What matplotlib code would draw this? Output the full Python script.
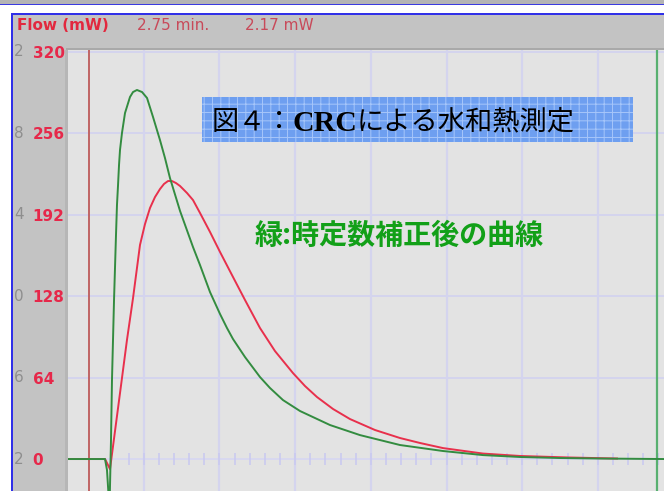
import matplotlib
matplotlib.use("Agg")
import matplotlib.pyplot as plt
import numpy as np
from matplotlib.patches import Rectangle

# ---- data: time (min) and heat flow (mW) ----
green_time = [0.0, 0.489, 0.515, 0.548, 0.568, 0.581, 0.608, 0.634, 0.647, 0.661,
              0.674, 0.687, 0.713, 0.753, 0.819, 0.859, 0.911, 0.978, 1.044, 1.123,
              1.215, 1.281, 1.347, 1.480, 1.651, 1.744, 1.876, 2.008, 2.100, 2.180,
              2.338, 2.536, 2.668, 2.840, 3.065, 3.461, 3.857, 4.386, 4.954, 5.482,
              5.971, 6.499, 7.028, 7.873]
green_flow = [0.0, 0.0, -8.6, -40.0, 14.9, 62.0, 124.9, 175.9, 199.5, 215.2,
              230.9, 242.7, 256.0, 271.7, 284.3, 288.2, 289.8, 288.2, 283.5, 268.6,
              250.5, 236.4, 220.7, 194.8, 166.5, 152.3, 131.1, 113.9, 102.9, 94.2,
              80.1, 64.4, 55.8, 46.3, 37.7, 26.7, 18.8, 11.0, 6.3, 3.1,
              1.6, 0.8, 0.4, 0.0]

red_time = [0.0, 0.489, 0.555, 0.621, 0.687, 0.779, 0.859, 0.951, 1.017, 1.083,
            1.149, 1.215, 1.268, 1.321, 1.374, 1.427, 1.480, 1.572, 1.651, 1.744,
            1.876, 2.008, 2.180, 2.338, 2.536, 2.734, 2.972, 3.131, 3.289, 3.501,
            3.725, 4.055, 4.386, 4.650, 4.954, 5.482, 5.971, 6.631, 7.252]
red_flow = [0.0, 0.0, -7.9, 22.0, 51.8, 93.5, 126.4, 168.1, 184.5, 197.1,
            205.7, 212.0, 216.0, 218.3, 218.3, 216.7, 214.4, 208.9, 203.4, 193.2,
            178.3, 162.6, 142.9, 124.9, 102.9, 84.8, 67.5, 57.3, 48.7, 39.3,
            31.4, 22.8, 16.5, 12.6, 8.6, 4.3, 2.4, 1.2, 0.4]

y_ticks = [0, 64, 128, 192, 256, 320]
y_ticks_hidden = ["2", "6", "0", "4", "8", "2"]
x_grid = [1, 2, 3, 4, 5, 6, 7]
marker_start = 0.277
marker_end = 7.78

title_parts = [("図４：", 212, 19.6, "normal"),
               ("CRC", 293, 21.5, "bold"),
               ("による水和熱測定", 357, 19.6, "normal")]
note_text = "緑:時定数補正後の曲線"
header_items = [("Flow (mW)", 17, "bold", "#e2283e"),
                ("2.75 min.", 137, "normal", "#c84a5a"),
                ("2.17 mW", 245, "normal", "#c84a5a")]

W, H = 664, 491
fig = plt.figure(figsize=(W / 100, H / 100), dpi=100)
fig.patch.set_facecolor("white")

# ---- window chrome in pixel coordinates ----
bg = fig.add_axes([0, 0, 1, 1], zorder=0)
bg.set_xlim(0, W)
bg.set_ylim(H, 0)
bg.axis("off")
bg.add_patch(Rectangle((0, 0), W, 4, color="#b4b4b4", lw=0))
bg.add_patch(Rectangle((0, 4), W, 1.2, color="#3a3ae0", lw=0))
bg.add_patch(Rectangle((12, 13), W, 2, color="#3030e8", lw=0))
bg.add_patch(Rectangle((11, 13), 2, H, color="#3030e8", lw=0))
bg.add_patch(Rectangle((13, 15), W, H, color="#c3c3c3", lw=0))
bg.add_patch(Rectangle((66, 48), W, 2.5, color="#a9a9a9", lw=0))
bg.add_patch(Rectangle((65, 50), 3, H, color="#b6b6b6", lw=0))

for label, x0, weight, col in header_items:
    bg.text(x0, 25, label, fontsize=11, fontweight=weight, color=col,
            ha="left", va="center", family="DejaVu Sans")

# ---- plot area ----
ax_left = 68 / W
ax_top = 50 / H
ax = fig.add_axes([ax_left, 0, 1 - ax_left, 1 - ax_top], zorder=1)
ax.set_facecolor("#e3e3e3")
ax.set_xlim(0, 7.873)
ax.set_ylim(-25.1, 321.2)
for s in ax.spines.values():
    s.set_visible(False)

ax.set_xticks([])
ax.set_yticks(y_ticks)
ax.set_yticklabels([str(v) for v in y_ticks])
ax.tick_params(axis="y", length=0, pad=25.5, labelsize=11,
               labelcolor="#e6284a")
for lab in ax.get_yticklabels():
    lab.set_ha("left")
    lab.set_fontweight("bold")

grid_col = "#d4d4ee"
for v in y_ticks[1:]:
    ax.axhline(v, color=grid_col, lw=1.4, zorder=1)
ax.axhline(0, color="#d6d6f2", lw=1.2, zorder=1)
for v in x_grid:
    ax.axvline(v, color=grid_col, lw=1.6, zorder=1)

# minor ticks along the zero line
minor = np.arange(0.8, 7.85, 0.2)
ax.vlines(minor, -5, 5, color="#cacaf0", lw=1.2, zorder=1)

ax.axvline(marker_start, color="#c06464", lw=1.4, zorder=2)
ax.axvline(marker_end, color="#58b070", lw=1.6, zorder=2)

ax.plot(red_time, red_flow, color="#e8304c", lw=1.4, zorder=3,
        solid_joinstyle="round")
ax.plot(green_time, green_flow, color="#338c40", lw=1.4, zorder=4,
        solid_joinstyle="round")

# faint labels of a second scale peeking at the left edge
for v, t in zip(y_ticks, y_ticks_hidden):
    ypix = 459 - v / 0.7853
    bg.text(14, ypix, t, fontsize=11, color="#8e8e8e", ha="left",
            va="center", family="DejaVu Sans")

# ---- annotations above the plot ----
ov = fig.add_axes([0, 0, 1, 1], zorder=5)
ov.set_xlim(0, W)
ov.set_ylim(H, 0)
ov.axis("off")
plt.rcParams["hatch.linewidth"] = 0.7
ov.add_patch(Rectangle((202, 97), 431, 45, facecolor="#6e9ff0",
                       edgecolor="#a6c6fa", hatch="++", lw=0))
for txt, x0, fs, wt in title_parts:
    ov.text(x0, 123, txt, fontsize=fs, fontweight=wt, color="black",
            ha="left", va="center",
            family=["Liberation Serif", "Noto Sans CJK JP"])
ov.text(255, 236, note_text, fontsize=20.2, color="#12a018", ha="left",
        va="center", fontweight="bold",
        family=["Noto Sans CJK JP", "DejaVu Sans"])

fig.savefig("out.png", dpi=100)
